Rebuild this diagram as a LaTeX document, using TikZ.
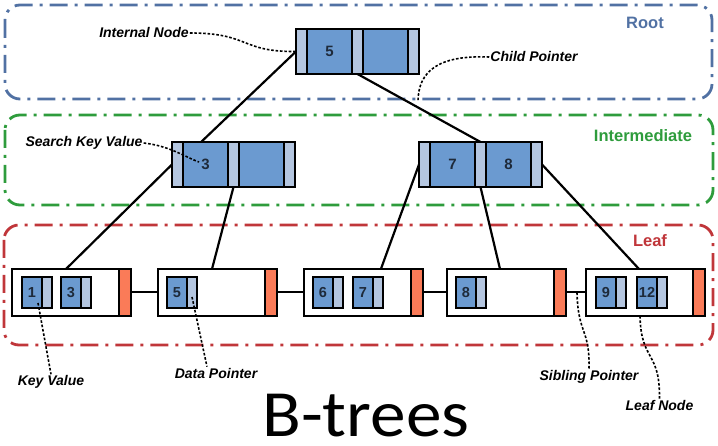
\documentclass[tikz,border=0pt]{standalone}
\usepackage{fontspec}
\setmainfont{Liberation Sans}
\newfontfamily\titlefont{Carlito}
\pgfdeclarelayer{frames}
\pgfdeclarelayer{links}
\pgfsetlayers{frames,links,main}

\definecolor{rootblue}{HTML}{5171A3}
\definecolor{midgreen}{HTML}{2E9C3C}
\definecolor{leafred}{HTML}{C0363A}
\definecolor{keyblue}{HTML}{6B9AD0}
\definecolor{ptrblue}{HTML}{B4C6E0}
\definecolor{tailorange}{HTML}{FA7B58}
\definecolor{digitnavy}{HTML}{1E2A3A}

\newcommand\innerdigits{\fontsize{15}{15}\selectfont\bfseries}
\newcommand\leafdigits{\fontsize{14.5}{15}\selectfont\bfseries}
\newcommand\hintfont{\fontsize{14}{15}\selectfont\bfseries\itshape}
\newcommand\levelfont{\fontsize{16.5}{18}\selectfont\bfseries}

\tikzset{
  levelframe/.style={line width=2.8pt, rounded corners=15pt,
    dash pattern=on 18pt off 7pt on 3pt off 7pt},
  cellbase/.style={draw=black, line width=1.5pt, inner sep=0pt, outer sep=0pt},
  ptrcell/.style={cellbase, fill=ptrblue, minimum width=11pt, minimum height=45pt},
  keycell/.style={cellbase, fill=keyblue, minimum width=45pt, minimum height=45pt,
    font=\innerdigits, text=digitnavy},
  leafbox/.style={cellbase, fill=white, minimum width=119pt, minimum height=47pt},
  leaftail/.style={cellbase, fill=tailorange, minimum width=12pt, minimum height=47pt},
  leafkey/.style={cellbase, fill=keyblue, minimum width=20pt, minimum height=31pt,
    font=\leafdigits, text=digitnavy},
  leafptr/.style={cellbase, fill=ptrblue, minimum width=10pt, minimum height=31pt},
  treelink/.style={line width=2.2pt, draw=black},
  siblink/.style={line width=2pt, draw=black},
  hint/.style={line width=1.6pt, dash pattern=on 2.6pt off 1.8pt},
  hintlabel/.style={font=\hintfont, inner sep=1pt},
  levellabel/.style={font=\levelfont, inner sep=0pt}
}

\begin{document}
\begin{tikzpicture}[x=1pt, y=-1pt]
\useasboundingbox (0,0) rectangle (718,446);

% ---- level frames ----
\begin{pgfonlayer}{frames}
  \draw[levelframe, rootblue] (5,5) rectangle (712,99);
  \draw[levelframe, midgreen] (5,115) rectangle (713,205);
  \draw[levelframe, leafred]  (4,225) rectangle (713,345);
\end{pgfonlayer}
\node[levellabel, text=rootblue] (tagRoot) at (645,23) {Root};
\node[levellabel, text=midgreen] (tagMid) at (643,136) {Intermediate};
\node[levellabel, text=leafred]  (tagLeaf) at (650,241) {Leaf};

% ---- root node ----
\node[ptrcell] (r0)  at (301.5,51.5) {};
\node[keycell] (rk1) at (329.5,51.5) {5};
\node[ptrcell] (r1)  at (357.5,51.5) {};
\node[keycell] (rk2) at (385.5,51.5) {};
\node[ptrcell] (r2)  at (413.5,51.5) {};

% ---- intermediate nodes ----
\node[ptrcell] (il0) at (177.5,164.5) {};
\node[keycell] (ik1) at (205.5,164.5) {3};
\node[ptrcell] (il1) at (233.5,164.5) {};
\node[keycell] (ik2) at (261.5,164.5) {};
\node[ptrcell] (il2) at (289.5,164.5) {};

\node[ptrcell] (ir0) at (424.5,164.5) {};
\node[keycell] (jk1) at (452.5,164.5) {7};
\node[ptrcell] (ir1) at (480.5,164.5) {};
\node[keycell] (jk2) at (508.5,164.5) {8};
\node[ptrcell] (ir2) at (536.5,164.5) {};

% ---- leaf nodes ----
\node[leafbox]  (l1) at (71.5,292.5) {};
\node[leaftail] (o1) at (125,292.5) {};
\node[leafkey]  (l1k1)  at (32,292.5) {1};
\node[leafptr]  (l1k1p) at (47,292.5) {};
\node[leafkey]  (l1k2)  at (71,292.5) {3};
\node[leafptr]  (l1k2p) at (86,292.5) {};

\node[leafbox]  (l2) at (217.5,292.5) {};
\node[leaftail] (o2) at (271,292.5) {};
\node[leafkey]  (l2k1)  at (177,292.5) {5};
\node[leafptr]  (l2k1p) at (192,292.5) {};

\node[leafbox]  (l3) at (363.5,292.5) {};
\node[leaftail] (o3) at (417,292.5) {};
\node[leafkey]  (l3k1)  at (323,292.5) {6};
\node[leafptr]  (l3k1p) at (338,292.5) {};
\node[leafkey]  (l3k2)  at (363,292.5) {7};
\node[leafptr]  (l3k2p) at (378,292.5) {};

\node[leafbox]  (l4) at (506.5,292.5) {};
\node[leaftail] (o4) at (560,292.5) {};
\node[leafkey]  (l4k1)  at (466,292.5) {8};
\node[leafptr]  (l4k1p) at (481,292.5) {};

\node[leafbox]  (l5) at (645.5,292.5) {};
\node[leaftail] (o5) at (699,292.5) {};
\node[leafkey]  (l5k1)  at (606,292.5) {9};
\node[leafptr]  (l5k1p) at (621,292.5) {};
\node[leafkey]  (l5k2)  at (647,292.5) {12};
\node[leafptr]  (l5k2p) at (662,292.5) {};

% ---- child pointers (behind the nodes) ----
\begin{pgfonlayer}{links}
  \draw[treelink] (r0.west) -- (il0.center);
  \draw[treelink] (r1.south) -- (ir1.north);
  \draw[treelink] (il0.west) -- ([xshift=-5.5pt]l1.north);
  \draw[treelink] (il1.south) -- ([xshift=-5.5pt]l2.north);
  \draw[treelink] (ir0.west) -- (l3k2p.north);
  \draw[treelink] (ir1.south) -- ([xshift=-6.5pt]l4.north);
  \draw[treelink] (ir2.east) -- ([xshift=-6.5pt]l5.north);
\end{pgfonlayer}

% ---- sibling pointers ----
\draw[siblink] (o1.east) -- (l2.west);
\draw[siblink] (o2.east) -- (l3.west);
\draw[siblink] (o3.east) -- (l4.west);
\draw[siblink] (o4.east) -- (l5.west);

% ---- callouts ----
\node[hintlabel] (lblIN) at (144,33) {Internal Node};
\node[hintlabel] (lblCP) at (534,57) {Child Pointer};
\node[hintlabel] (lblSK) at (84,143) {Search Key Value};
\node[hintlabel] (lblKV) at (51,382) {Key Value};
\node[hintlabel] (lblDP) at (216,373) {Data Pointer};
\node[hintlabel] (lblSP) at (589,377) {Sibling Pointer};
\node[hintlabel] (lblLN) at (659.5,405) {Leaf Node};

\coordinate (cpEnd) at (418,102);
\coordinate (skEnd) at (199,162);
\coordinate (kvTip) at (38,303);
\coordinate (dpTip) at (192,297);
\coordinate (spTip) at (577,292.5);

\draw[hint] (lblIN.east) .. controls (250,33) and (240,52) .. (r0.west);
\draw[hint] (lblCP.west) .. controls (440,55) and (418,70) .. (cpEnd);
\draw[hint] (lblSK.east) .. controls (170,146) and (185,157) .. (skEnd);
\draw[hint] (kvTip) -- (lblKV.north);
\draw[hint] (dpTip) -- ([xshift=-9pt]lblDP.north);
\draw[hint] (spTip) .. controls (578,335) and (590,328) .. (lblSP.north);
\draw[hint] ([xshift=-5.5pt]l5.south) .. controls (641,362) and (660,350) .. (lblLN.north);

% ---- title ----
\node[font={\titlefont\fontsize{66}{66}\selectfont}, anchor=base, inner sep=0pt,
  xscale=1.08] (title) at (366,436) {B-trees};
\end{tikzpicture}
\end{document}
